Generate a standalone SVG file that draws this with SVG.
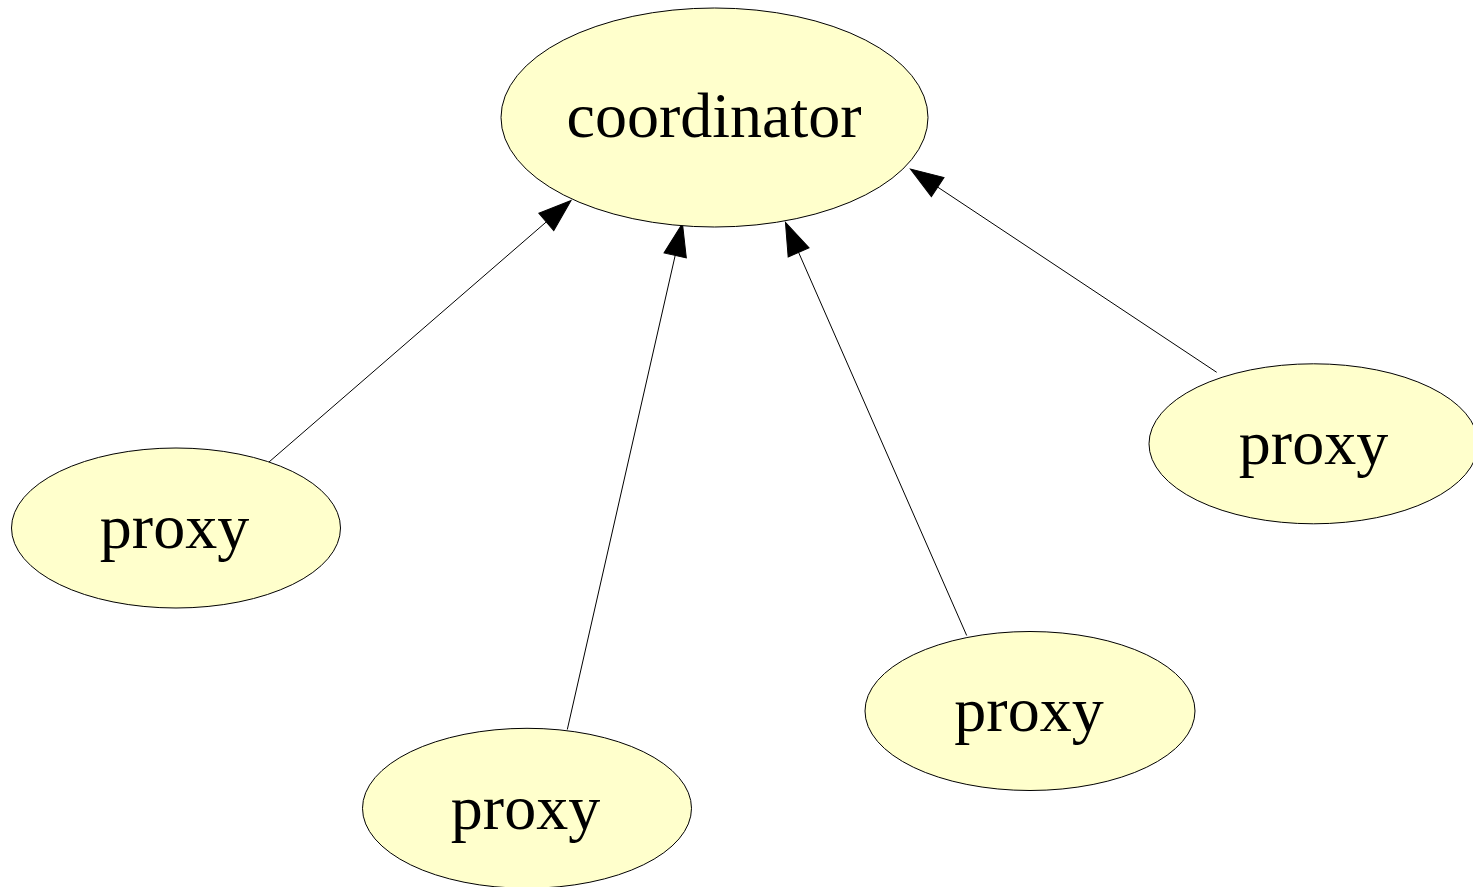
<svg xmlns="http://www.w3.org/2000/svg" width="1473" height="887" viewBox="0 0 1473 887">
  <style>
    .node ellipse { fill: #ffffcc; stroke: #000000; stroke-width: 1; }
    .node text { font-family: "Liberation Serif", "Times New Roman", serif; font-size: 64px; fill: #000000; text-anchor: middle; }
    .edge { stroke: #000000; stroke-width: 1; fill: none; marker-end: url(#arrow); }
  </style>
  <defs>
    <marker id="arrow" markerUnits="userSpaceOnUse" viewBox="0 -12 34 24" refX="0" refY="0" markerWidth="34" markerHeight="24" orient="auto" overflow="visible">
      <path d="M0,-11.4 L32.7,0 L0,11.4 Z" fill="#000000" stroke="#000000" stroke-width="1"/>
    </marker>
  </defs>
  <rect x="0" y="0" width="1473" height="887" fill="#ffffff"/>

  <!-- connectors: each proxy points to the coordinator -->
  <g id="edges">
    <line class="edge" x1="269" y1="462" x2="546.3" y2="221.9"/>
    <line class="edge" x1="567.3" y1="729.5" x2="675.2" y2="255.4"/>
    <line class="edge" x1="966.7" y1="635.5" x2="798.6" y2="252.4"/>
    <line class="edge" x1="1216.7" y1="372.3" x2="937.7" y2="187.1"/>
  </g>

  <g id="coordinator" class="node">
    <ellipse cx="714.5" cy="117.5" rx="213.5" ry="109.5"/>
    <text x="714" y="137">coordinator</text>
  </g>
  <g id="proxy1" class="node">
    <ellipse cx="176" cy="528" rx="164.5" ry="80"/>
    <text x="174.5" y="548">proxy</text>
  </g>
  <g id="proxy2" class="node">
    <ellipse cx="527" cy="808.3" rx="164.5" ry="80"/>
    <text x="525.5" y="828.5">proxy</text>
  </g>
  <g id="proxy3" class="node">
    <ellipse cx="1030" cy="711" rx="165" ry="79.5"/>
    <text x="1029" y="731">proxy</text>
  </g>
  <g id="proxy4" class="node">
    <ellipse cx="1313.5" cy="443.8" rx="164.5" ry="80"/>
    <text x="1313.5" y="464">proxy</text>
  </g>
</svg>
